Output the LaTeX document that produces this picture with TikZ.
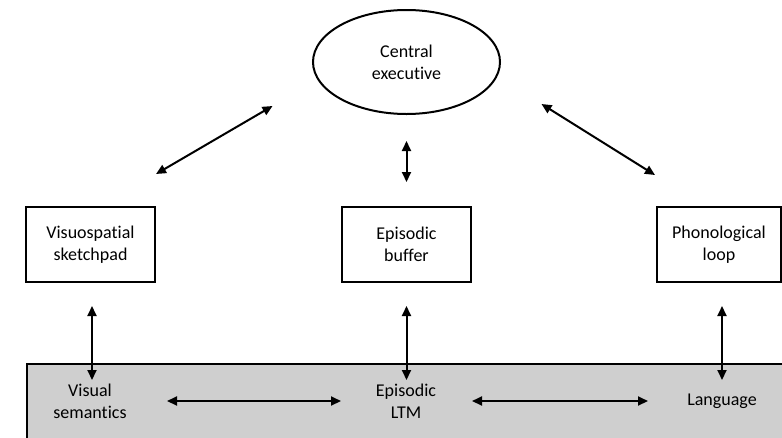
\documentclass[tikz,border=0pt]{standalone}
\usepackage{fontspec}
\setmainfont{Carlito}[Ligatures=NoCommon]
\usetikzlibrary{arrows.meta,shapes.geometric}

\definecolor{ltmgray}{RGB}{207,207,207}

\tikzset{
  component/.style={draw=black, line width=2pt, rectangle, fill=white,
    minimum height=75pt, align=center, inner sep=0pt},
  exec/.style={draw=black, line width=2pt, ellipse, minimum width=187pt,
    minimum height=104pt, align=center, inner sep=0pt},
  store/.style={align=center, inner sep=0pt},
  link/.style={line width=2pt, {Triangle[length=10pt,width=9pt]}-{Triangle[length=10pt,width=9pt]}},
}

\begin{document}
\begin{tikzpicture}[x=1pt, y=-1pt, font=\fontsize{18}{22}\selectfont]
  \useasboundingbox (0,0) rectangle (782,437);
  \clip (0,0) rectangle (782,437);

  % long-term memory band
  \node[fill=ltmgray, draw=black, line width=2pt, rectangle, anchor=north west,
        minimum width=780pt, minimum height=90pt, inner sep=0pt] (ltm) at (26,363) {};

  % working memory components
  \node[exec] (ce) at (406.5,62) {Central\\executive};
  \node[component, minimum width=129pt] (vss) at (90.5,244.5) {Visuospatial\\sketchpad};
  \node[component, minimum width=129pt] (eb) at (406.5,244.5) {Episodic\\buffer};
  \node[component, minimum width=124pt] (pl) at (719,244.5) {Phonological\\loop};

  % long-term stores
  \node[store] (vs) at (90,401) {Visual\\semantics};
  \node[store] (el) at (406,401) {Episodic\\LTM};
  \node[store] (lang) at (722,401) {Language};

  % executive links
  \draw[link] ([yshift=32pt]vss.north east) -- ([xshift=-134pt,yshift=-44pt]ce.center);
  \draw[link] ([yshift=-26pt]ce.south) -- ([yshift=24pt]eb.north);
  \draw[link] ([xshift=135pt,yshift=-42pt]ce.center) -- ([xshift=-1pt,yshift=31pt]pl.north west);

  % links to long-term memory
  \draw[link] ([xshift=1.5pt,yshift=-23pt]vss.south) -- ([xshift=1.5pt,yshift=-17pt]vss.south |- ltm.north);
  \draw[link] ([yshift=-23pt]eb.south) -- ([yshift=-17pt]eb.south |- ltm.north);
  \draw[link] ([xshift=3pt,yshift=-23pt]pl.south) -- ([xshift=3pt,yshift=-17pt]pl.south |- ltm.north);

  % links between long-term stores
  \draw[link] (167,401) -- (341,401);
  \draw[link] (472,401) -- (648,401);
\end{tikzpicture}
\end{document}
